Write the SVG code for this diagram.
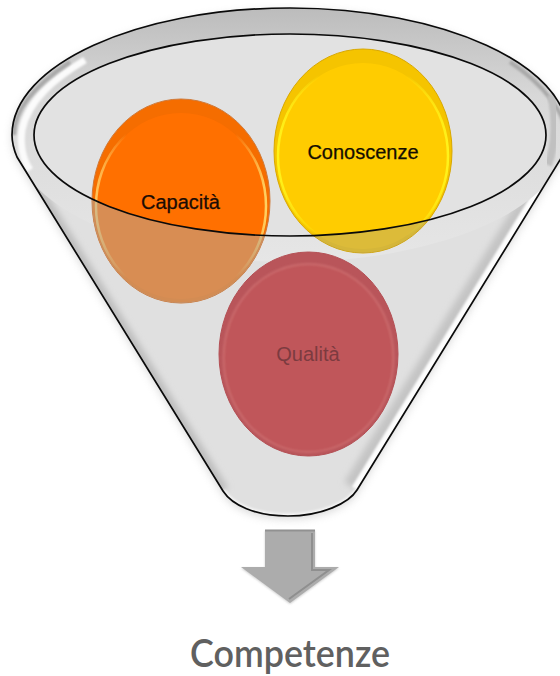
<svg xmlns="http://www.w3.org/2000/svg" width="560" height="676" viewBox="0 0 560 676">
<style>
.lbl{font-family:"Liberation Sans",Arial,sans-serif;font-size:20px;text-anchor:middle;stroke-width:.25px}
.edge{fill:none;stroke:#0a0a0a;stroke-width:1.7}
</style>
<defs>
<filter id="sh" x="-10%" y="-10%" width="120%" height="120%"><feGaussianBlur stdDeviation="4"/></filter>
<filter id="b1" x="-10%" y="-10%" width="120%" height="120%"><feGaussianBlur stdDeviation="1.2"/></filter>
<filter id="b3" x="-10%" y="-10%" width="120%" height="120%"><feGaussianBlur stdDeviation="3"/></filter>
<path id="fp" d="M290 8C443 8 568 65 568 135C568 143 565 151 560 160L357 490C349 503 322 516 288 516C255 516 232 505 223 491L17 157C14 150 12 142 12 135C12 65 137 8 290 8Z"/>
<clipPath id="fun"><use href="#fp"/></clipPath>
<clipPath id="below"><path d="M0 0H560V676H0ZM34 135A256 101 0 0 0 546 135A256 101 0 0 0 34 135Z" clip-rule="evenodd"/></clipPath>
<linearGradient id="rim" x1="0" y1="0" x2="0" y2="1"><stop offset="0" stop-color="#bcbcbc"/><stop offset=".35" stop-color="#d8d8d8"/><stop offset="1" stop-color="#e6e6e6"/></linearGradient>
<linearGradient id="lo" x1="0" y1="0" x2="1" y2="0"><stop offset="0" stop-color="#ffc45a"/><stop offset=".18" stop-color="#ffc45a" stop-opacity="0"/><stop offset=".82" stop-color="#ffc45a" stop-opacity="0"/><stop offset="1" stop-color="#ffd060"/></linearGradient>
<linearGradient id="ly" x1="0" y1="0" x2="1" y2="0"><stop offset="0" stop-color="#fff21a"/><stop offset=".25" stop-color="#fff21a" stop-opacity="0"/><stop offset=".75" stop-color="#fff21a" stop-opacity="0"/><stop offset="1" stop-color="#fff21a"/></linearGradient>
</defs>
<g id="funnel">
<use href="#fp" fill="#aaa" opacity=".45" filter="url(#sh)" transform="translate(0,3)"/>
<use href="#fp" fill="#e0e0e0"/>
<g clip-path="url(#fun)">
<path d="M17 157L223 491" fill="none" stroke="#bdbdbd" stroke-width="12" filter="url(#b3)"/>
<path d="M560 160L357 490" fill="none" stroke="#c4c4c4" stroke-width="30" filter="url(#b3)"/>
<path d="M560 160L357 490" fill="none" stroke="#fdfdfd" stroke-width="12" filter="url(#b1)"/>
<path d="M223 491C232 505 255 516 288 516C322 516 349 503 357 490" fill="none" stroke="#f6f6f6" stroke-width="5" filter="url(#b1)"/>
<ellipse cx="290" cy="135" rx="278" ry="127" fill="url(#rim)"/>
<path d="M30 170C22 158 20 145 22 130C28 100 55 78 85 60" fill="none" stroke="#fbfbfb" stroke-width="7" filter="url(#b1)"/>
<path d="M14 135C14 110 35 85 70 62M566 135C566 115 545 85 510 62" fill="none" stroke="#a8a8a8" stroke-width="4" filter="url(#b1)"/>
<path d="M551 95C556 115 556 145 548 165" fill="none" stroke="#c0c0c0" stroke-width="8" filter="url(#b1)"/>
<ellipse cx="290" cy="135" rx="256" ry="101" fill="#e2e2e2"/>
</g>
</g>
<g id="capacita">
<ellipse cx="181" cy="201" rx="89" ry="102" fill="#f56d00" stroke="#cf7a3a" stroke-width="1"/>
<ellipse cx="181" cy="206" rx="85" ry="93" fill="#ff7000" stroke="url(#lo)" stroke-width="2.500"/>
<ellipse cx="181" cy="201" rx="89" ry="102" fill="#adadad" opacity=".48" clip-path="url(#below)"/>
<text class="lbl" x="180.500" y="209" fill="#1a0c05" stroke="#1a0c05">Capacità</text>
</g>
<g id="conoscenze">
<ellipse cx="363" cy="151" rx="89" ry="102" fill="#f5c400" stroke="#d9a800" stroke-width="1"/>
<ellipse cx="363" cy="156" rx="85" ry="93" fill="#ffcc00" stroke="url(#ly)" stroke-width="2.500"/>
<ellipse cx="363" cy="151" rx="89" ry="102" fill="#9d9d9d" opacity=".36" clip-path="url(#below)"/>
<text class="lbl" x="363" y="159" fill="#140e00" stroke="#140e00">Conoscenze</text>
</g>
<g id="qualita">
<ellipse cx="308.500" cy="354" rx="89.500" ry="102" fill="#b9555a" stroke="#b45055" stroke-width="1"/>
<ellipse cx="308.500" cy="358" rx="85" ry="94" fill="#c0575a" stroke="#cf7072" stroke-width="1.500" filter="url(#b1)"/>
<text class="lbl" x="308" y="361" fill="#7c3b40">Qualità</text>
</g>
<g id="connectors">
<use href="#fp" class="edge"/>
<ellipse class="edge" cx="290" cy="135" rx="256" ry="101"/>
</g>
<g id="arrow">
<path d="M265 530H315V567H339L290 603L241 567H265Z" fill="#aaa" filter="url(#b1)" opacity=".6" transform="translate(0,1)"/>
<path d="M265 530H315V567H339L290 603L241 567H265Z" fill="#acacac"/>
<path d="M312 533V570H329L289 599" fill="none" stroke="#8f8f8f" stroke-width="2"/>
<path d="M265 530.500H315" fill="none" stroke="#919191" stroke-width="2"/>
<text x="290" y="667" font-family="Lato,sans-serif" font-size="38" font-weight="600" text-anchor="middle" fill="#606060" textLength="200" lengthAdjust="spacingAndGlyphs">Competenze</text>
</g>
</svg>
